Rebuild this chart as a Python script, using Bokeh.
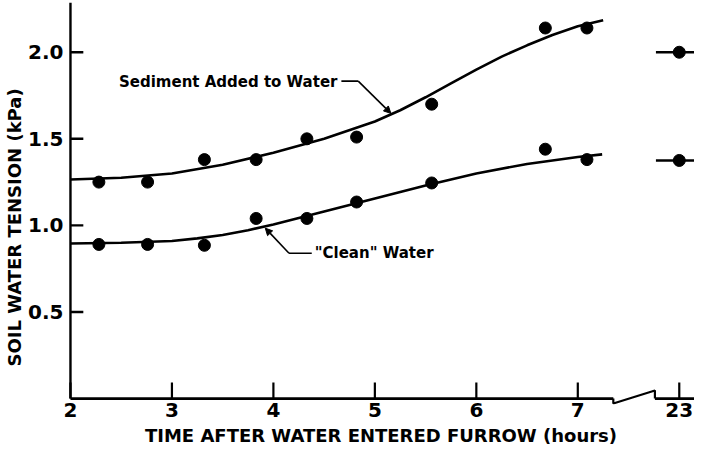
from bokeh.plotting import figure
from bokeh.models import Range1d, FixedTicker, Arrow, NormalHead, Title
from bokeh.core.properties import value
from bokeh.embed import file_html
from bokeh.resources import INLINE

# ---------------- data ----------------
times = [2.28, 2.76, 3.32, 3.83, 4.33, 4.82, 5.56, 6.68, 7.09]          # hours
sediment = [1.25, 1.25, 1.38, 1.38, 1.50, 1.51, 1.70, 2.14, 2.14]       # kPa
clean = [0.89, 0.89, 0.885, 1.04, 1.04, 1.135, 1.245, 1.44, 1.38]       # kPa

late_time_label = "23"      # hours, shown after the axis break
late_sediment = [2.00]
late_clean = [1.375]

# hand-drawn fitted curves
sediment_curve_x = [2.0, 2.5, 3.0, 3.5, 4.0, 4.5, 5.0, 5.25, 5.5, 5.75, 6.0, 6.25, 6.5, 6.75, 7.0, 7.25]
sediment_curve = [1.265, 1.275, 1.30, 1.35, 1.42, 1.50, 1.60, 1.665, 1.74, 1.82, 1.90, 1.975, 2.04, 2.10, 2.15, 2.185]
clean_curve_x = [2.0, 2.5, 3.0, 3.25, 3.5, 3.75, 4.0, 4.5, 5.0, 5.5, 6.0, 6.5, 7.0, 7.24]
clean_curve = [0.895, 0.90, 0.91, 0.925, 0.945, 0.972, 1.005, 1.08, 1.155, 1.23, 1.30, 1.355, 1.395, 1.41]

x_ticks = [2, 3, 4, 5, 6, 7]
x_tick_labels = ["2", "3", "4", "5", "6", "7"]
y_ticks = [0.5, 1.0, 1.5, 2.0]
y_tick_labels = ["0.5", "1.0", "1.5", "2.0"]

# ---------------- layout constants ----------------
LATE_POS = 8.0            # axis position where 23 h is drawn
BREAK_START = 7.35
BREAK_END = 7.76
X0, Y0 = 2.0, 0.0
PX_PER_X = 102.6
PX_PER_Y = 174.0
x_start = X0 - 3 / PX_PER_X
x_end = X0 + 631 / PX_PER_X
y_start = Y0 - 6 / PX_PER_Y
y_end = 398 / PX_PER_Y

FONT = "DejaVu Sans"

p = figure(width=694, height=448,
           x_range=Range1d(x_start, x_end), y_range=Range1d(y_start, y_end),
           output_backend="svg", toolbar_location=None,
           min_border_left=60, min_border_right=0, min_border_top=2, min_border_bottom=42)
p.outline_line_color = None
p.grid.visible = False
p.background_fill_color = "white"
p.border_fill_color = "white"

# axes: labels only, lines and ticks are drawn below
all_x_ticks = x_ticks + [LATE_POS]
overrides = {t: l for t, l in zip(x_ticks, x_tick_labels)}
overrides[LATE_POS] = late_time_label
xa = p.xaxis[0]
xa.ticker = FixedTicker(ticks=all_x_ticks)
xa.major_label_overrides = overrides
ya = p.yaxis[0]
ya.ticker = FixedTicker(ticks=y_ticks)
ya.major_label_overrides = {t: l for t, l in zip(y_ticks, y_tick_labels)}
for ax in (xa, ya):
    ax.axis_line_color = None
    ax.major_tick_line_color = None
    ax.minor_tick_line_color = None
    ax.major_label_text_font = FONT
    ax.major_label_text_font_size = "20px"
    ax.major_label_text_font_style = "bold"
    ax.major_label_text_color = "black"
    ax.axis_label_text_font = FONT
    ax.axis_label_text_font_size = "18px"
    ax.axis_label_text_font_style = "bold"
    ax.axis_label_text_color = "black"
xa.axis_label = "TIME AFTER WATER ENTERED FURROW (hours)"
xa.major_label_standoff = -8
xa.axis_label_standoff = 5
ya.major_label_standoff = -2

# y-axis title as a side title so it can sit a little lower, as in the original
p.add_layout(Title(text="SOIL WATER TENSION (kPa)", align="left", offset=38,
                   text_font=FONT, text_font_size="18px", text_font_style="bold",
                   text_color="black", standoff=2), "left")

# axis lines with the break
p.segment(x0=[X0], y0=[Y0], x1=[X0], y1=[y_end], line_color="black", line_width=2.4)
p.segment(x0=[X0, BREAK_END], y0=[Y0, Y0], x1=[BREAK_START, x_end], y1=[Y0, Y0],
          line_color="black", line_width=2.8)
p.line([BREAK_START, BREAK_START, BREAK_END, BREAK_END],
       [Y0, Y0 - 5 / PX_PER_Y, Y0 + 8 / PX_PER_Y, Y0],
       line_color="black", line_width=2.2)
# tick marks (pointing inward)
p.segment(x0=all_x_ticks, y0=[Y0] * len(all_x_ticks), x1=all_x_ticks,
          y1=[Y0 + 16 / PX_PER_Y] * len(all_x_ticks), line_color="black", line_width=2.2)
p.segment(x0=[X0] * len(y_ticks), y0=y_ticks, x1=[X0 + 13 / PX_PER_X] * len(y_ticks),
          y1=y_ticks, line_color="black", line_width=2.4)

# curves
p.line(sediment_curve_x, sediment_curve, line_color="black", line_width=2.6)
p.line(clean_curve_x, clean_curve, line_color="black", line_width=2.6)

# late values with short line stubs
stub = [BREAK_END + 0.01, x_end]
for v in late_sediment + late_clean:
    p.line(stub, [v, v], line_color="black", line_width=2.6)

# points
p.scatter(times, sediment, size=12, color="black")
p.scatter(times, clean, size=12, color="black")
p.scatter([LATE_POS] * len(late_sediment), late_sediment, size=12, color="black")
p.scatter([LATE_POS] * len(late_clean), late_clean, size=12, color="black")

# annotations
p.text(x=[2.478], y=[1.828], text=["Sediment Added to Water"], text_font=value(FONT),
       text_font_size="15px", text_font_style="bold", text_baseline="middle",
       text_align="left", text_color="black")
p.text(x=[4.407], y=[0.841], text=['"Clean" Water'], text_font=value(FONT),
       text_font_size="15px", text_font_style="bold", text_baseline="middle",
       text_align="left", text_color="black")

p.line([4.67, 4.836], [1.833, 1.833], line_color="black", line_width=1.6)
p.add_layout(Arrow(x_start=4.836, y_start=1.833, x_end=5.158, y_end=1.647,
                   line_color="black", line_width=1.6,
                   end=NormalHead(size=7, fill_color="black", line_color="black")))
p.line([4.378, 4.154], [0.839, 0.839], line_color="black", line_width=1.6)
p.add_layout(Arrow(x_start=4.154, y_start=0.839, x_end=3.92, y_end=0.984,
                   line_color="black", line_width=1.6,
                   end=NormalHead(size=7, fill_color="black", line_color="black")))

open("out.html", "w").write(file_html(p, INLINE))
